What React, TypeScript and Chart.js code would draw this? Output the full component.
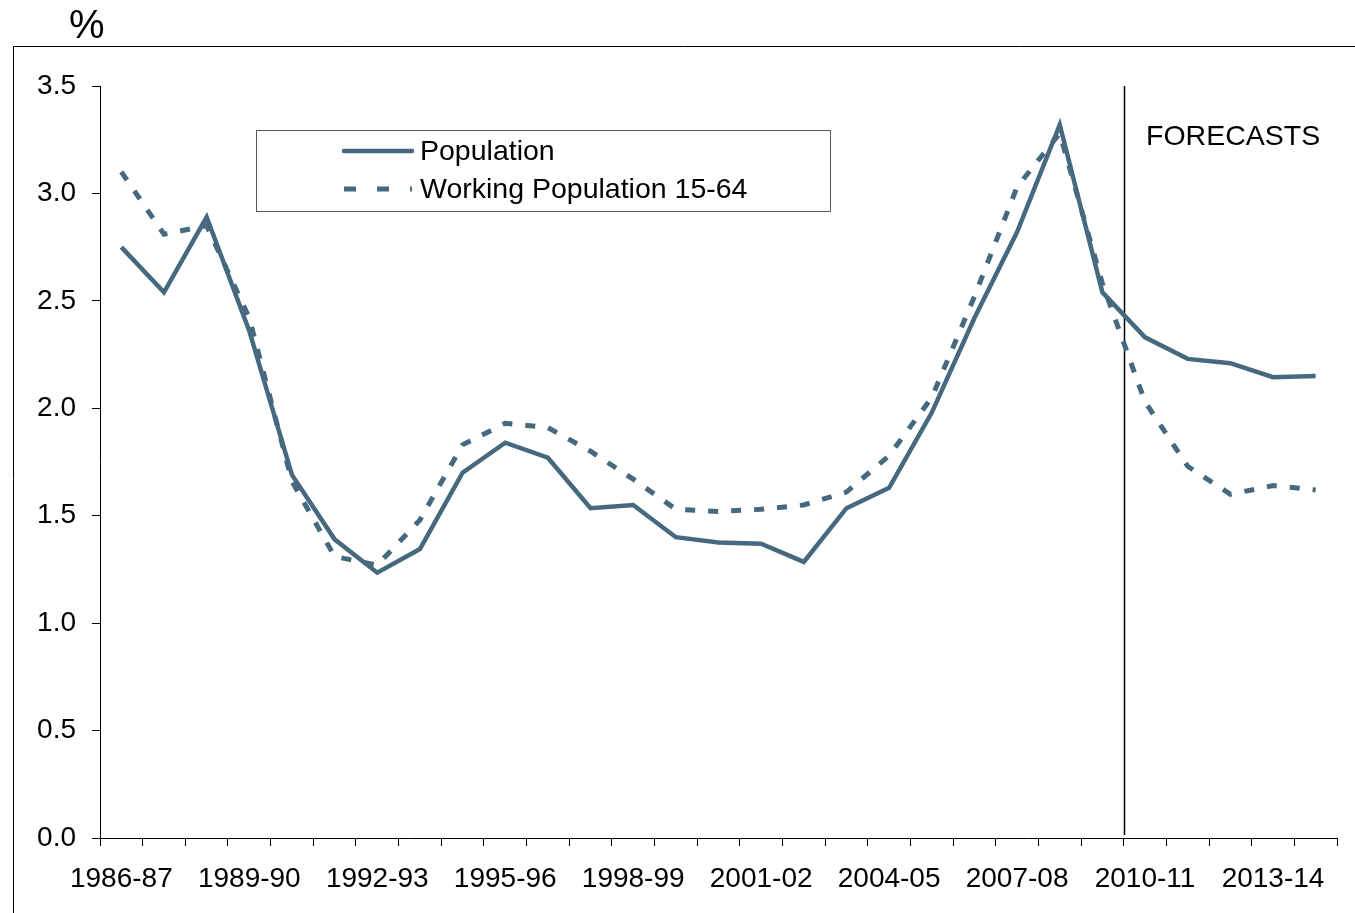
import React, { useEffect, useRef } from "react";
import { Chart, registerables } from "chart.js";

Chart.register(...registerables);

const categories = [
  "1986-87", "1987-88", "1988-89", "1989-90", "1990-91", "1991-92", "1992-93",
  "1993-94", "1994-95", "1995-96", "1996-97", "1997-98", "1998-99", "1999-00",
  "2000-01", "2001-02", "2002-03", "2003-04", "2004-05", "2005-06", "2006-07",
  "2007-08", "2008-09", "2009-10", "2010-11", "2011-12", "2012-13", "2013-14",
  "2014-15",
];

const population = [
  2.75, 2.54, 2.89, 2.36, 1.69, 1.39, 1.235, 1.345, 1.7, 1.84, 1.77, 1.535,
  1.55, 1.4, 1.375, 1.37, 1.285, 1.535, 1.63, 1.98, 2.42, 2.82, 3.32, 2.54,
  2.33, 2.23, 2.21, 2.145, 2.15,
];

const workingPopulation = [
  3.1, 2.81, 2.85, 2.42, 1.66, 1.31, 1.27, 1.48, 1.83, 1.93, 1.91, 1.8, 1.67,
  1.53, 1.52, 1.53, 1.55, 1.61, 1.78, 2.05, 2.52, 3.03, 3.28, 2.58, 2.03, 1.73,
  1.6, 1.64, 1.62,
];

const seriesNames = ["Population", "Working Population 15-64"];
const forecastStart = "2010-11";
const forecastLabel = "FORECASTS";
const unitLabel = "%";

const LINE_COLOR = "#46697f";
const FONT = "'Liberation Sans', Arial, sans-serif";

const overlayPlugin = {
  id: "overlay",
  beforeDatasetsDraw(chart: any) {
    const ctx = chart.ctx;
    const x = chart.scales.x;
    const idx = categories.indexOf(forecastStart);
    const px = (x.getPixelForValue(idx - 1) + x.getPixelForValue(idx)) / 2;
    ctx.save();
    ctx.strokeStyle = "#000";
    ctx.lineWidth = 1.5;
    ctx.beginPath();
    ctx.moveTo(Math.round(px) + 0.5, chart.chartArea.top);
    ctx.lineTo(Math.round(px) + 0.5, chart.chartArea.bottom - 3);
    ctx.stroke();
    ctx.restore();
  },
  afterDraw(chart: any) {
    const ctx = chart.ctx;
    ctx.save();
    // outer frame
    ctx.strokeStyle = "#000";
    ctx.lineWidth = 1;
    ctx.beginPath();
    ctx.moveTo(13.5, 913);
    ctx.lineTo(13.5, 46.5);
    ctx.lineTo(1355, 46.5);
    ctx.stroke();

    // unit label
    ctx.fillStyle = "#000";
    ctx.font = `40px ${FONT}`;
    ctx.textBaseline = "middle";
    ctx.textAlign = "left";
    ctx.fillText(unitLabel, 69, 27);

    // forecasts text
    ctx.font = `28.5px ${FONT}`;
    ctx.fillText(forecastLabel, 1146, 137);

    // legend
    ctx.strokeStyle = "#5a5a5a";
    ctx.lineWidth = 1;
    ctx.strokeRect(256.5, 130.5, 574, 81);
    const ds = chart.data.datasets;
    const rows = [151, 189];
    ds.forEach((d: any, i: number) => {
      ctx.save();
      ctx.strokeStyle = d.borderColor;
      ctx.lineWidth = d.borderWidth;
      ctx.lineCap = i === 0 ? "round" : "butt";
      ctx.setLineDash(i === 0 ? [] : [12, 21]);
      ctx.beginPath();
      ctx.moveTo(344, rows[i]);
      ctx.lineTo(412, rows[i]);
      ctx.stroke();
      ctx.restore();
      ctx.fillStyle = "#000";
      ctx.font = `28.5px ${FONT}`;
      ctx.textBaseline = "middle";
      ctx.fillText(d.label, 420, rows[i] + 1);
    });
    ctx.restore();
  },
};

export default function App() {
  const ref = useRef<HTMLCanvasElement | null>(null);

  useEffect(() => {
    if (!ref.current) return;
    const chart = new Chart(ref.current, {
      type: "line",
      data: {
        labels: categories,
        datasets: [
          {
            label: seriesNames[0],
            data: population,
            borderColor: LINE_COLOR,
            backgroundColor: LINE_COLOR,
            borderWidth: 4.5,
            pointRadius: 0,
            tension: 0,
            borderJoinStyle: "miter",
            order: 1,
          },
          {
            label: seriesNames[1],
            data: workingPopulation,
            borderColor: LINE_COLOR,
            backgroundColor: LINE_COLOR,
            borderWidth: 5,
            borderDash: [10, 13],
            borderCapStyle: "butt",
            pointRadius: 0,
            tension: 0,
            order: 2,
          },
        ],
      },
      options: {
        responsive: false,
        animation: false,
        events: [],
        layout: { padding: { top: 86, right: 18, left: 0, bottom: 0 } },
        plugins: {
          legend: { display: false },
          tooltip: { enabled: false },
          title: { display: false },
        },
        scales: {
          x: {
            type: "category",
            offset: true,
            afterFit: (s: any) => {
              s.height = 75;
            },
            grid: {
              offset: true,
              drawOnChartArea: false,
              drawTicks: true,
              tickLength: 8,
              color: "#000",
              lineWidth: 1,
            },
            border: { display: true, color: "#000", width: 1 },
            ticks: {
              autoSkip: false,
              maxRotation: 0,
              minRotation: 0,
              padding: 16,
              color: "#000",
              font: { family: FONT, size: 28 },
              callback: (_v: any, i: number) => (i % 3 === 0 ? categories[i] : ""),
            },
          },
          y: {
            min: 0,
            max: 3.5,
            afterFit: (s: any) => {
              s.width = 100;
            },
            grid: {
              drawOnChartArea: false,
              drawTicks: true,
              tickLength: 8,
              color: "#000",
              lineWidth: 1,
            },
            border: { display: true, color: "#000", width: 1 },
            ticks: {
              stepSize: 0.5,
              padding: 16,
              color: "#000",
              font: { family: FONT, size: 28 },
              callback: (v: any) => Number(v).toFixed(1),
            },
          },
        },
      },
      plugins: [overlayPlugin],
    });
    return () => chart.destroy();
  }, []);

  return (
    <div style={{ position: "absolute", left: 0, top: 0, width: 1355, height: 913, background: "#fff" }}>
      <canvas ref={ref} width={1355} height={913} style={{ display: "block" }} />
    </div>
  );
}
